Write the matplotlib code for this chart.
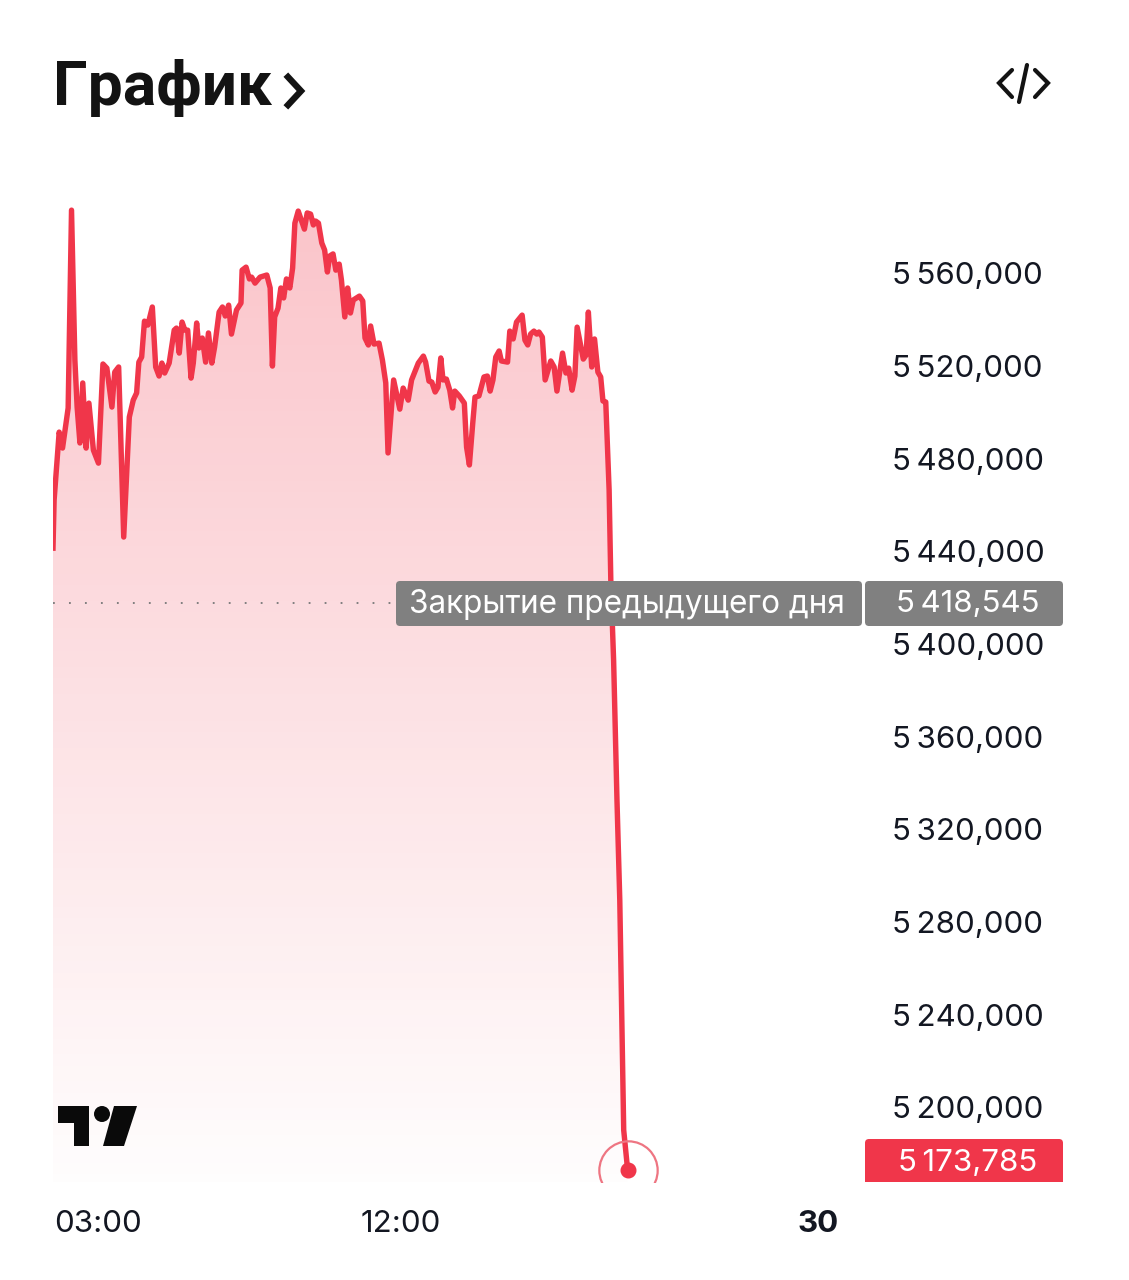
import numpy as np
import matplotlib
# Set non-interactive Agg backend
matplotlib.use("Agg")
import matplotlib.pyplot as plt
from matplotlib.patches import FancyBboxPatch, Polygon, Circle, Rectangle
from matplotlib.transforms import ScaledTranslation

plt.rcParams["font.family"] = ["Inter", "Roboto", "DejaVu Sans"]

# minutes since 00:00 and price in thousands
minutes = [100, 102, 111, 117, 127, 133, 139, 143, 148, 153, 159, 164, 172, 181, 189, 196, 205, 210, 217, 226,
           236, 243, 249, 253, 258, 263, 269, 277, 283, 289, 294, 299, 307, 316, 320, 325, 330, 335, 340, 346,
           350, 356, 360, 366, 372, 377, 383, 388, 396, 402, 407, 413, 418, 427, 435, 437, 444, 450, 454, 460,
           469, 481, 487, 491, 495, 501, 506, 511, 516, 522, 527, 531, 537, 548, 553, 559, 564, 568, 573, 579,
           584, 589, 593, 599, 604, 610, 614, 620, 625, 630, 635, 646, 652, 656, 662, 666, 672, 681, 687, 693,
           697, 707, 718, 724, 733, 739, 751, 760, 764, 770, 775, 781, 786, 791, 795, 801, 807, 812, 816, 824,
           833, 837, 842, 848, 852, 859, 868, 874, 879, 884, 889, 895, 899, 910, 914, 920, 926, 936, 941, 946,
           951, 957, 962, 966, 972, 977, 987, 993, 998, 1008, 1014, 1019, 1025, 1030, 1034, 1045, 1050, 1054, 1060, 1065,
           1071, 1076, 1080, 1085, 1091, 1094, 1099, 1105, 1110, 1117, 1124]
prices = [5442.2, 5463.0, 5492.3, 5485.4, 5502.7, 5588.1, 5523.4, 5503.1, 5487.6, 5513.5, 5485.4, 5504.8, 5484.5, 5478.9, 5521.7, 5519.9, 5503.1, 5518.2, 5520.4, 5447.0,
          5498.8, 5506.1, 5509.2, 5522.5, 5524.7, 5540.2, 5538.5, 5546.3, 5520.4, 5516.5, 5522.1, 5517.8, 5522.1, 5536.3, 5537.2, 5526.4, 5539.8, 5536.3, 5536.3, 5515.6,
          5522.1, 5539.4, 5528.6, 5532.9, 5522.5, 5535.1, 5522.1, 5529.0, 5544.1, 5546.3, 5542.4, 5547.1, 5534.6, 5545.0, 5548.0, 5562.2, 5563.5, 5558.4, 5559.2, 5556.6,
          5559.2, 5560.1, 5554.5, 5520.8, 5542.0, 5545.8, 5554.5, 5550.2, 5558.4, 5554.5, 5563.1, 5582.5, 5587.7, 5579.9, 5586.9, 5586.4, 5581.7, 5583.4, 5582.5, 5573.9,
          5570.9, 5561.4, 5568.3, 5569.2, 5562.2, 5564.8, 5557.9, 5542.0, 5554.5, 5543.7, 5549.3, 5551.0, 5548.9, 5532.9, 5529.9, 5538.1, 5530.3, 5530.7, 5523.4, 5513.5,
          5483.3, 5514.8, 5502.2, 5511.3, 5506.1, 5514.8, 5522.1, 5525.1, 5522.5, 5514.3, 5513.9, 5509.6, 5511.7, 5524.3, 5514.8, 5515.2, 5510.4, 5502.7, 5510.0, 5507.9,
          5504.8, 5485.8, 5478.1, 5496.2, 5507.4, 5507.9, 5516.1, 5516.5, 5510.0, 5514.8, 5524.7, 5527.3, 5523.0, 5522.5, 5535.9, 5532.5, 5539.8, 5542.8, 5532.0, 5529.9,
          5534.6, 5535.9, 5534.6, 5535.5, 5533.3, 5514.8, 5523.0, 5520.4, 5510.0, 5526.4, 5517.8, 5519.9, 5510.4, 5516.5, 5537.6, 5523.8, 5525.6, 5544.1, 5520.4, 5532.5,
          5518.2, 5516.1, 5505.7, 5505.3, 5467.3, 5428.4, 5393.9, 5333.5, 5290.3, 5191.0, 5173.785]

y_ticks = [5200, 5240, 5280, 5320, 5360, 5400, 5440, 5480, 5520, 5560]
x_ticks = [180, 720, 1463]
x_labels = ["03:00", "12:00", "30"]
prev_close = 5418.545
last_price = 5173.785

RED = "#f0364a"
GREY = "#808080"
W, H = 1129, 1280


def fmt(v):
    s = f"{v * 1000:,.0f}"
    return s[0] + "\u2009" + s[2:]


fig = plt.figure(figsize=(W / 100, H / 100), dpi=100, facecolor="white")

# main chart, 53..863 px wide and 190..1182 px tall
ax = fig.add_axes([53 / W, 1 - 1182 / H, (863 - 53) / W, (1182 - 190) / H])
for s in ax.spines.values():
    s.set_visible(False)

# gradient under the line
poly = ax.fill_between(minutes, prices, 5168.6, color="none")
rgba = np.zeros((256, 1, 4))
rgba[..., :3] = matplotlib.colors.to_rgb(RED)
rgba[..., 3] = np.linspace(0.30, 0.01, 256).reshape(-1, 1)
img = ax.imshow(rgba, extent=[100, 1124, 5168.6, 5596.8], aspect="auto", zorder=1)
img.set_clip_path(poly.get_paths()[0], transform=ax.transData)
ax.set_xlim(100, 100 + 810 * 1.782)
ax.set_ylim(5168.6, 5596.8)

ax.plot(minutes, prices, color=RED, lw=3.9, solid_joinstyle="round", zorder=2)
ax.plot([100, 712], [prev_close, prev_close], color="#777777", lw=1.3, dashes=(1, 7.85), zorder=2)
ax.plot(minutes[-1], last_price, "o", ms=10.5, color=RED, zorder=3)
ax.plot(minutes[-1], last_price, "o", ms=42, mfc="none", mec="#ee7582", mew=1.6, zorder=3)

ax.yaxis.tick_right()
ax.set_yticks(y_ticks, [fmt(v) for v in y_ticks])
ax.tick_params(axis="y", length=0, pad=21, labelsize=22.5, labelcolor="#131722")
ax.set_xticks(x_ticks, x_labels)
ax.tick_params(axis="x", length=0, pad=20.5, labelsize=22.5, labelcolor="#131722")
ax.get_xticklabels()[-1].set_fontweight("bold")
# axis text sits a little above the price level
up = ScaledTranslation(0, 2 / 100, fig.dpi_scale_trans)
for lab in ax.get_yticklabels():
    lab.set_transform(lab.get_transform() + up)

# pixel overlay for the header, the logo and the price tags
ov = fig.add_axes([0, 0, 1, 1], zorder=5)
ov.set_xlim(0, W)
ov.set_ylim(H, 0)
ov.axis("off")


def tag(x0, x1, y0, y1, color):
    p = FancyBboxPatch((x0 + 4, y0 + 4), x1 - x0 - 8, y1 - y0 - 8, boxstyle="round,pad=4,rounding_size=4",
                       fc=color, ec="none")
    ov.add_patch(p)
    return p


tag(396, 862, 581, 626, GREY)
tag(865, 1063, 581, 626, GREY)
red_tag = tag(865, 1063, 1139, 1186, RED)
red_tag.set_clip_path(Rectangle((0, 0), W, 1182, transform=ov.transData))
ov.text(409, 604, "Закрытие предыдущего дня", color="white", fontsize=22.7, va="center", ha="left")
ov.text(968, 604, fmt(prev_close), color="white", fontsize=22.5, va="center", ha="center")
ov.text(968, 1163, fmt(last_price), color="white", fontsize=22.5, va="center", ha="center")

# header
ov.text(53, 88, "График", fontsize=44.8, fontfamily=["Roboto", "DejaVu Sans"], fontweight="bold", color="#131313", va="center", ha="left")
ov.plot([288, 301, 288], [77, 91, 105], color="#131313", lw=4.6, solid_joinstyle="miter")
for xs, ys in [([1012, 999, 1012], [70, 83, 97]), ([1027, 1019], [65, 102]), ([1035, 1048, 1035], [70, 83, 97])]:
    ov.plot(xs, ys, color="#131313", lw=3, solid_capstyle="round", solid_joinstyle="miter")

# TradingView mark
ov.add_patch(Polygon([(58, 1106), (89, 1106), (89, 1146), (74, 1146), (74, 1123), (58, 1123)], fc="#0a0a0a", ec="none"))
ov.add_patch(Circle((102, 1114), 8, fc="#0a0a0a", ec="none"))
ov.add_patch(Polygon([(114, 1106), (137, 1106), (124, 1146), (103, 1146)], fc="#0a0a0a", ec="none"))

fig.savefig("out.png", dpi=100, facecolor="white")
